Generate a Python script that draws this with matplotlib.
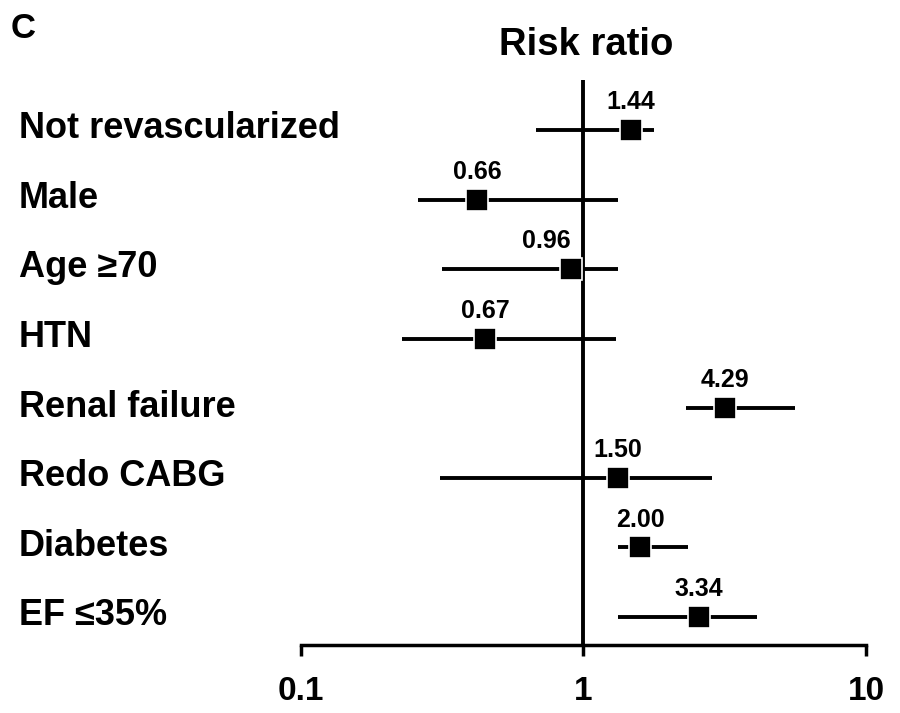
import matplotlib
matplotlib.use("Agg")
import matplotlib.pyplot as plt
import matplotlib.transforms as mtransforms

plt.rcParams['font.family'] = ['Liberation Sans', 'DejaVu Sans']
plt.rcParams['font.weight'] = 'bold'

# données (de haut en bas)
facteurs = ["Not revascularized", "Male", "Age \u226570", "HTN",
            "Renal failure", "Redo CABG", "Diabetes", "EF \u226435%"]
rr_texte = ["1.44", "0.66", "0.96", "0.67", "4.29", "1.50", "2.00", "3.34"]
rr_point = [1.47, 0.42, 0.90, 0.45, 3.16, 1.32, 1.59, 2.57]
ic_bas = [0.68, 0.26, 0.315, 0.227, 2.31, 0.31, 1.32, 1.32]
ic_haut = [1.77, 1.33, 1.33, 1.30, 5.62, 2.84, 2.35, 4.13]
ticks_x = [0.1, 1, 10]
ticks_lab = ["0.1", "1", "10"]

n = len(facteurs)
les_y = [n - i for i in range(n)]

fig = plt.figure(figsize=(9, 7.13), dpi=100)
ax = fig.add_axes([0.3344, 0.0954, 0.6278, 0.7924])
ax.set_xscale('log')
ax.set_xlim(0.1, 10)
ax.set_ylim(0.598, 8.718)

ax.axvline(1, color='black', lw=2.8, zorder=1)
ax.hlines(les_y, ic_bas, ic_haut, color='black', lw=2.8, zorder=2)
ax.plot(rr_point, les_y, 's', color='black', markersize=16.5,
        markeredgecolor='white', markeredgewidth=1.2, zorder=3)

for x, y, t in zip(rr_point, les_y, rr_texte):
    # le label trop proche de la ligne verticale est décalé à gauche
    ha = 'right' if abs(x - 1) < 0.15 else 'center'
    ax.annotate(t, (x, y), xytext=(0, 15), textcoords='offset points',
                ha=ha, va='baseline', fontsize=18, fontweight='bold')

trans = mtransforms.blended_transform_factory(fig.transFigure, ax.transData)
for y, lab in zip(les_y, facteurs):
    ax.annotate(lab, (19 / 900, y), xycoords=trans, xytext=(0, -6),
                textcoords='offset points', ha='left', va='baseline',
                fontsize=26, fontweight='bold', annotation_clip=False)

for s in ['left', 'right', 'top']:
    ax.spines[s].set_visible(False)
ax.spines['bottom'].set_linewidth(2.5)
ax.set_yticks([])
ax.set_xticks(ticks_x)
ax.set_xticklabels(ticks_lab, fontsize=24, fontweight='bold')
ax.xaxis.set_minor_locator(matplotlib.ticker.NullLocator())
ax.tick_params(axis='x', length=8, width=2.5, pad=14, direction='out')

fig.text(586 / 900, 1 - 55 / 713, "Risk ratio", ha='center', va='baseline',
         fontsize=27.5, fontweight='bold')
fig.text(11 / 900, 1 - 38 / 713, "C", ha='left', va='baseline',
         fontsize=25, fontweight='bold')

fig.savefig("out.png", dpi=100)
